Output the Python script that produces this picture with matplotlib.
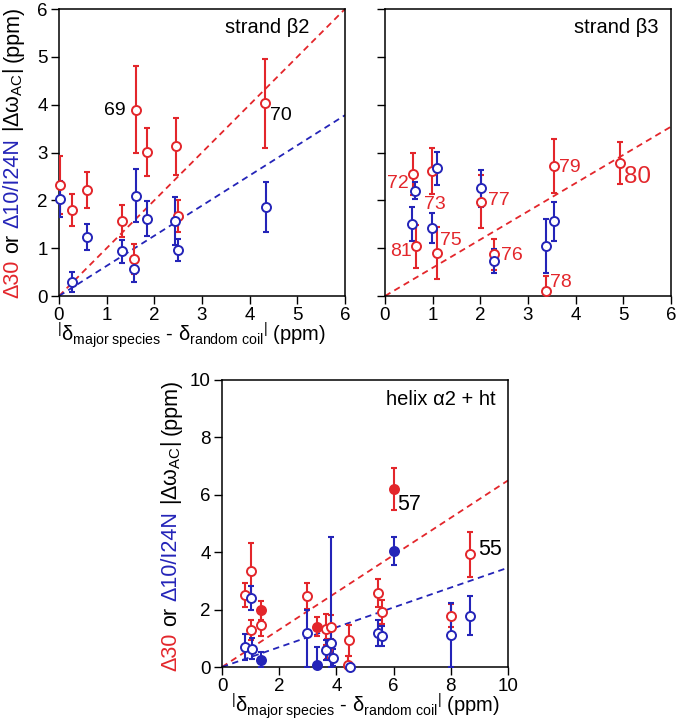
import matplotlib
matplotlib.use("Agg")
import matplotlib.pyplot as plt
import numpy as np

plt.rcParams['font.family'] = ['Liberation Sans', 'DejaVu Sans']
plt.rcParams['mathtext.fontset'] = 'custom'
plt.rcParams['mathtext.rm'] = 'Liberation Sans'
plt.rcParams['mathtext.it'] = 'Liberation Sans:italic'
plt.rcParams['mathtext.bf'] = 'Liberation Sans:bold'

RED = '#e3262b'
BLUE = '#2424b8'

# ---------------- strand beta2 ----------------
b2_red_x = [0.03, 0.27, 0.58, 1.32, 1.57, 1.62, 1.84, 2.45, 2.50, 4.33]
b2_red_y = [2.32, 1.80, 2.21, 1.57, 0.77, 3.89, 3.01, 3.13, 1.67, 4.03]
b2_red_e = [0.60, 0.33, 0.38, 0.33, 0.32, 0.91, 0.50, 0.59, 0.33, 0.93]
b2_blue_x = [0.03, 0.27, 0.58, 1.32, 1.57, 1.62, 1.84, 2.43, 2.50, 4.34]
b2_blue_y = [2.03, 0.30, 1.24, 0.94, 0.57, 2.10, 1.62, 1.57, 0.97, 1.86]
b2_blue_e = [0.38, 0.21, 0.27, 0.24, 0.27, 0.56, 0.37, 0.51, 0.23, 0.53]
b2_red_slope = 1.0
b2_blue_slope = 0.63
b2_labels = ["69", "70"]
b2_label_x = [1.17, 4.65]
b2_label_y = [3.87, 3.77]

# ---------------- strand beta3 ----------------
b3_red_x = [0.58, 0.98, 0.64, 1.09, 2.01, 2.28, 3.38, 3.54, 4.92]
b3_red_y = [2.55, 2.62, 1.04, 0.90, 1.97, 0.87, 0.11, 2.72, 2.78]
b3_red_e = [0.43, 0.48, 0.45, 0.55, 0.55, 0.33, 0.30, 0.56, 0.44]
b3_blue_x = [0.63, 0.57, 1.09, 0.99, 2.01, 2.28, 3.38, 3.54]
b3_blue_y = [2.20, 1.51, 2.67, 1.42, 2.25, 0.74, 1.05, 1.56]
b3_blue_e = [0.18, 0.35, 0.34, 0.32, 0.38, 0.25, 0.56, 0.41]
b3_red_slope = 0.59
b3_labels = ["72", "73", "81", "75", "77", "76", "78", "79", "80"]
b3_label_x = [0.27, 1.05, 0.34, 1.38, 2.38, 2.67, 3.69, 3.87, 5.29]
b3_label_y = [2.36, 1.92, 0.94, 1.16, 1.99, 0.84, 0.29, 2.68, 2.49]
b3_label_size = [14, 14, 14, 14, 14, 14, 14, 14, 17.5]

# ---------------- helix alpha2 + ht ----------------
hx_red_x = [0.79, 1.00, 1.02, 1.36, 1.36, 2.97, 3.32, 3.63, 3.66, 3.80, 4.39, 4.44, 5.45, 5.61, 6.01, 8.00, 8.68]
hx_red_y = [2.51, 3.34, 1.30, 1.98, 1.47, 2.47, 1.40, 1.31, 0.62, 1.38, 0.08, 0.93, 2.58, 1.92, 6.19, 1.79, 3.92]
hx_red_e = [0.41, 0.97, 0.35, 0.33, 0.40, 0.44, 0.33, 0.55, 0.35, 0.42, 0.30, 0.53, 0.48, 0.41, 0.73, 0.39, 0.78]
hx_red_filled = [0, 0, 0, 1, 0, 0, 1, 0, 0, 0, 0, 0, 0, 0, 1, 0, 0]
hx_blue_x = [0.79, 1.00, 1.04, 1.36, 2.98, 3.32, 3.63, 3.80, 3.87, 4.47, 5.45, 5.61, 6.01, 8.00, 8.68]
hx_blue_y = [0.70, 2.40, 0.64, 0.26, 1.20, 0.06, 0.58, 0.85, 0.33, 0.00, 1.19, 1.08, 4.05, 1.11, 1.79]
hx_blue_elo = [0.45, 0.43, 0.36, 0.26, 1.20, 0.64, 0.35, 0.85, 0.30, 0.05, 0.45, 0.35, 0.48, 1.11, 0.67]
hx_blue_ehi = [0.45, 0.43, 0.36, 0.26, 0.80, 0.64, 0.35, 3.69, 0.30, 0.05, 0.45, 0.35, 0.48, 1.13, 0.67]
hx_blue_filled = [0, 0, 0, 1, 0, 1, 0, 0, 0, 0, 0, 0, 1, 0, 0]
hx_red_slope = 0.65
hx_blue_slope = 0.346
hx_labels = ["57", "55"]
hx_label_x = [6.55, 9.37]
hx_label_y = [5.65, 4.10]

panel_titles = ["strand β2", "strand β3", "helix α2 + ht"]
xlabel_text = r'$^{\mathrm{|}}$δ$_{\mathrm{major\ species}}$ - δ$_{\mathrm{random\ coil}}$$^{\mathrm{|}}$ (ppm)'
ylabel_pieces = ["Δ30", "or", "Δ10/I24N", r"|Δω$_{\mathrm{AC}}$|", "(ppm)"]
ylabel_colors = [RED, 'black', BLUE, 'black', 'black']

W, H = 677, 722
fig = plt.figure(figsize=(W / 100, H / 100), dpi=100)

def px_axes(l, t, r, b):
    return fig.add_axes([l / W, 1 - b / H, (r - l) / W, (b - t) / H])

ax1 = px_axes(59, 9, 345, 296)
ax2 = px_axes(385, 9, 671, 296)
ax3 = px_axes(222, 380, 508, 667)

def style(ax, xlim, ylim, ticks_x, ticks_y, ylabels=True):
    ax.set_xlim(*xlim)
    ax.set_ylim(*ylim)
    ax.set_xticks(ticks_x)
    ax.set_yticks(ticks_y)
    ax.tick_params(direction='out', length=5.5, width=1.0, labelsize=13.5, pad=2.5)
    if not ylabels:
        ax.set_yticklabels([])
    for s in ax.spines.values():
        s.set_linewidth(1.1)

def draw_points(ax, x, y, elo, ehi, color, filled=None):
    x = np.asarray(x); y = np.asarray(y)
    ax.errorbar(x, y, yerr=[elo, ehi], fmt='none', ecolor=color, elinewidth=1.5,
                capsize=2.2, capthick=1.5, zorder=3)
    if filled is None:
        filled = [0] * len(x)
    for xi, yi, f in zip(x, y, filled):
        ax.plot([xi], [yi], 'o', ms=6.5, mec=color, mew=1.4,
                mfc=color if f else 'white', zorder=4, clip_on=False)

def fit_line(ax, slope, xmax, color):
    xs = np.array([0, xmax])
    ax.plot(xs, slope * xs, '--', color=color, lw=1.3, dashes=(3.5, 2.5), zorder=2)

# panel 1
style(ax1, (0, 6), (0, 6), range(7), range(7))
fit_line(ax1, b2_red_slope, 6, RED)
fit_line(ax1, b2_blue_slope, 6, BLUE)
draw_points(ax1, b2_red_x, b2_red_y, b2_red_e, b2_red_e, RED)
draw_points(ax1, b2_blue_x, b2_blue_y, b2_blue_e, b2_blue_e, BLUE)
for t, x, y in zip(b2_labels, b2_label_x, b2_label_y):
    ax1.text(x, y, t, fontsize=14, ha='center', va='center', color='black')
ax1.text(0.875, 0.935, panel_titles[0], transform=ax1.transAxes, ha='right', va='center', fontsize=14.5)

# panel 2
style(ax2, (0, 6), (0, 6), range(7), range(7), ylabels=False)
fit_line(ax2, b3_red_slope, 6, RED)
draw_points(ax2, b3_red_x, b3_red_y, b3_red_e, b3_red_e, RED)
draw_points(ax2, b3_blue_x, b3_blue_y, b3_blue_e, b3_blue_e, BLUE)
for t, x, y, s in zip(b3_labels, b3_label_x, b3_label_y, b3_label_size):
    ax2.text(x, y, t, fontsize=s, ha='center', va='center', color=RED)
ax2.text(0.958, 0.935, panel_titles[1], transform=ax2.transAxes, ha='right', va='center', fontsize=14.5)

# panel 3
style(ax3, (0, 10), (0, 10), range(0, 11, 2), range(0, 11, 2))
fit_line(ax3, hx_red_slope, 10, RED)
fit_line(ax3, hx_blue_slope, 10, BLUE)
draw_points(ax3, hx_red_x, hx_red_y, hx_red_e, hx_red_e, RED, hx_red_filled)
draw_points(ax3, hx_blue_x, hx_blue_y, hx_blue_elo, hx_blue_ehi, BLUE, hx_blue_filled)
for t, x, y in zip(hx_labels, hx_label_x, hx_label_y):
    ax3.text(x, y, t, fontsize=15.5, ha='center', va='center', color='black')
ax3.text(0.958, 0.933, panel_titles[2], transform=ax3.transAxes, ha='right', va='center', fontsize=14.5)

# x labels (baseline placement)
fig.text(57 / W, 1 - 341 / H, xlabel_text, ha='left', va='baseline', fontsize=14.5)
fig.text(366 / W, 1 - 712 / H, xlabel_text, ha='center', va='baseline', fontsize=14.5)

# multi-coloured y labels
renderer = fig.canvas.get_renderer()

def place_ylabel(xc_px, yc_top_px, fs):
    gap = fs * 100 / 72 * 0.28
    objs, lengths = [], []
    for p, c in zip(ylabel_pieces, ylabel_colors):
        t = fig.text(0, 0, p, color=c, fontsize=fs, rotation=90, rotation_mode='anchor',
                     ha='left', va='center')
        lengths.append(t.get_window_extent(renderer).height)
        objs.append(t)
    total = sum(lengths) + gap * (len(objs) - 1)
    yb = (H - yc_top_px) - total / 2
    for t, L in zip(objs, lengths):
        t.set_position((xc_px / W, yb / H))
        yb += L + gap

place_ylabel(13, 152, 15.5)
place_ylabel(171, 525, 15.5)

fig.savefig('out.png', dpi=100)
